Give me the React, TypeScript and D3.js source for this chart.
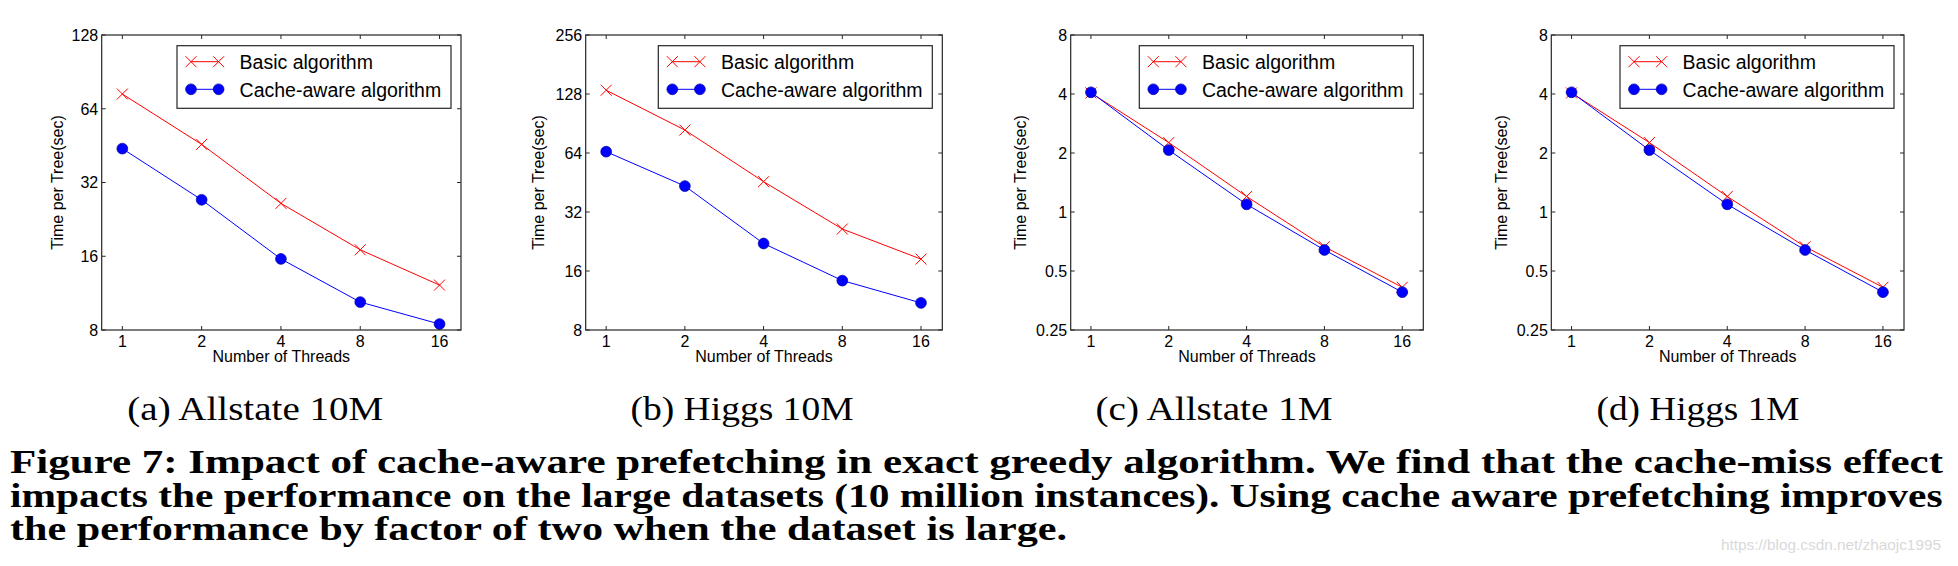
import React from "react";
import * as d3 from "d3";

const THREADS = [1, 2, 4, 8, 16];
const X_TICK_LABELS = ["1", "2", "4", "8", "16"];

const A_BASIC = [73.5, 45.8, 26.3, 17.0, 12.2];
const A_CACHE = [44.0, 27.2, 15.6, 10.4, 8.46];
const B_BASIC = [133.8, 83.8, 45.7, 26.2, 18.4];
const B_CACHE = [65.0, 43.4, 22.1, 14.3, 11.0];
const C_BASIC = [4.05, 2.26, 1.2, 0.665, 0.413];
const C_CACHE = [4.08, 2.07, 1.094, 0.64, 0.39];
const D_BASIC = [4.05, 2.26, 1.2, 0.665, 0.413];
const D_CACHE = [4.08, 2.07, 1.094, 0.64, 0.39];

const A_YTICKS = [8, 16, 32, 64, 128];
const B_YTICKS = [8, 16, 32, 64, 128, 256];
const C_YTICKS = [0.25, 0.5, 1, 2, 4, 8];
const D_YTICKS = [0.25, 0.5, 1, 2, 4, 8];

const SERIES_NAMES = ["Basic algorithm", "Cache-aware algorithm"];
const SUBCAPTIONS = ["(a) Allstate 10M", "(b) Higgs 10M", "(c) Allstate 1M", "(d) Higgs 1M"];
const X_LABEL = "Number of Threads";
const Y_LABEL = "Time per Tree(sec)";
const CAPTION_LINES = [
  "Figure 7: Impact of cache-aware prefetching in exact greedy algorithm. We find that the cache-miss effect",
  "impacts the performance on the large datasets (10 million instances). Using cache aware prefetching improves",
  "the performance by factor of two when the dataset is large.",
];
const WATERMARK = "https://blog.csdn.net/zhaojc1995";

const PANELS = [
  { basic: A_BASIC, cache: A_CACHE, yticks: A_YTICKS, left: 101.7, right: 461, ylabX: 58.3, capX: 255.3, capLen: 256 },
  { basic: B_BASIC, cache: B_CACHE, yticks: B_YTICKS, left: 585.7, right: 942.3, ylabX: 540, capX: 742, capLen: 223 },
  { basic: C_BASIC, cache: C_CACHE, yticks: C_YTICKS, left: 1070.7, right: 1423.3, ylabX: 1021.7, capX: 1214, capLen: 237 },
  { basic: D_BASIC, cache: D_CACHE, yticks: D_YTICKS, left: 1551.3, right: 1904, ylabX: 1503, capX: 1698, capLen: 203 },
];

const TOP = 35;
const BOTTOM = 330;
const SANS = "'Liberation Sans', Arial, Helvetica, sans-serif";
const SERIF = "'Liberation Serif', 'Times New Roman', serif";
const RED = "#ff0000";
const BLUE = "#0000ff";
const AXIS = "#262626";

function XMark({ x, y, s = 5.5 }) {
  return (
    <path
      d={`M${x - s},${y - s}L${x + s},${y + s}M${x - s},${y + s}L${x + s},${y - s}`}
      stroke={RED}
      strokeWidth={1}
      fill="none"
    />
  );
}

function Dot({ x, y }) {
  return <circle cx={x} cy={y} r={5.4} fill={BLUE} stroke="#00009a" strokeWidth={0.7} />;
}

function Panel({ p }) {
  const x = d3.scaleLog().base(2).domain([0.835, 19.3]).range([p.left, p.right]);
  const yt = p.yticks;
  const y = d3.scaleLog().base(2).domain([yt[0], yt[yt.length - 1]]).range([BOTTOM, TOP]);
  const line = d3
    .line<number>()
    .x((_, i) => x(THREADS[i]))
    .y((d) => y(d));
  const tl = 4;
  const lgW = 274;
  const lgH = 62.6;
  const lgX = p.right - 10 - lgW;
  const lgY = TOP + 10.7;
  const rows = [lgY + 16, lgY + 43.6];
  const cx = (p.left + p.right) / 2;
  const cy = (TOP + BOTTOM) / 2;
  return (
    <g>
      {/* plot lines */}
      <path d={line(p.basic) || ""} stroke={RED} strokeWidth={1} fill="none" />
      {p.basic.map((v, i) => (
        <XMark key={"b" + i} x={x(THREADS[i])} y={y(v)} />
      ))}
      <path d={line(p.cache) || ""} stroke={BLUE} strokeWidth={1} fill="none" />
      {p.cache.map((v, i) => (
        <Dot key={"c" + i} x={x(THREADS[i])} y={y(v)} />
      ))}
      {/* box */}
      <rect x={p.left} y={TOP} width={p.right - p.left} height={BOTTOM - TOP} fill="none" stroke={AXIS} strokeWidth={1.2} />
      {/* x ticks */}
      {THREADS.map((t, i) => (
        <g key={"xt" + i}>
          <line x1={x(t)} x2={x(t)} y1={BOTTOM} y2={BOTTOM - tl} stroke={AXIS} strokeWidth={1} />
          <line x1={x(t)} x2={x(t)} y1={TOP} y2={TOP + tl} stroke={AXIS} strokeWidth={1} />
          <text x={x(t)} y={BOTTOM + 16.7} textAnchor="middle" fontFamily={SANS} fontSize={16} fill="#000">
            {X_TICK_LABELS[i]}
          </text>
        </g>
      ))}
      {/* y ticks */}
      {yt.map((t, i) => (
        <g key={"yt" + i}>
          <line x1={p.left} x2={p.left + tl} y1={y(t)} y2={y(t)} stroke={AXIS} strokeWidth={1} />
          <line x1={p.right} x2={p.right - tl} y1={y(t)} y2={y(t)} stroke={AXIS} strokeWidth={1} />
          <text x={p.left - 3.5} y={y(t)} dy="0.36em" textAnchor="end" fontFamily={SANS} fontSize={16} fill="#000">
            {String(t)}
          </text>
        </g>
      ))}
      {/* axis labels */}
      <text x={cx} y={BOTTOM + 32.3} textAnchor="middle" fontFamily={SANS} fontSize={16} fill="#000">
        {X_LABEL}
      </text>
      <text
        transform={`translate(${p.ylabX + 4.3},${cy}) rotate(-90)`}
        textAnchor="middle"
        fontFamily={SANS}
        fontSize={16}
        fill="#000"
      >
        {Y_LABEL}
      </text>
      {/* legend */}
      <rect x={lgX} y={lgY} width={lgW} height={lgH} fill="#fff" stroke={AXIS} strokeWidth={1.2} />
      <line x1={lgX + 14} x2={lgX + 41.6} y1={rows[0]} y2={rows[0]} stroke={RED} strokeWidth={1} />
      <XMark x={lgX + 14} y={rows[0]} />
      <XMark x={lgX + 41.6} y={rows[0]} />
      <line x1={lgX + 14} x2={lgX + 41.6} y1={rows[1]} y2={rows[1]} stroke={BLUE} strokeWidth={1} />
      <Dot x={lgX + 14} y={rows[1]} />
      <Dot x={lgX + 41.6} y={rows[1]} />
      {SERIES_NAMES.map((n, i) => (
        <text key={n} x={lgX + 62.6} y={rows[i] + 7.3} fontFamily={SANS} fontSize={19.5} fill="#000">
          {n}
        </text>
      ))}
    </g>
  );
}

export default function App() {
  return (
    <svg
      width={1958}
      height={566}
      style={{ position: "absolute", left: 0, top: 0, background: "#fff" }}
      xmlns="http://www.w3.org/2000/svg"
    >
      <rect x={0} y={0} width={1958} height={566} fill="#fff" />
      {PANELS.map((p, i) => (
        <Panel key={i} p={p} />
      ))}
      {PANELS.map((p, i) => (
        <text
          key={"cap" + i}
          x={p.capX - p.capLen / 2}
          y={420}
          fontFamily={SERIF}
          fontSize={33}
          textLength={p.capLen}
          lengthAdjust="spacingAndGlyphs"
          fill="#000"
        >
          {SUBCAPTIONS[i]}
        </text>
      ))}
      {CAPTION_LINES.map((l, i) => (
        <text
          key={"cl" + i}
          x={10}
          y={473.3 + i * 33.4}
          fontFamily={SERIF}
          fontWeight="bold"
          fontSize={34}
          textLength={[1933, 1932.5, 1057][i]}
          lengthAdjust="spacingAndGlyphs"
          fill="#000"
        >
          {l}
        </text>
      ))}
      <text
        x={1721}
        y={550}
        fontFamily={SANS}
        fontSize={14.5}
        textLength={220}
        lengthAdjust="spacingAndGlyphs"
        fill="#d9d9d9"
      >
        {WATERMARK}
      </text>
    </svg>
  );
}
